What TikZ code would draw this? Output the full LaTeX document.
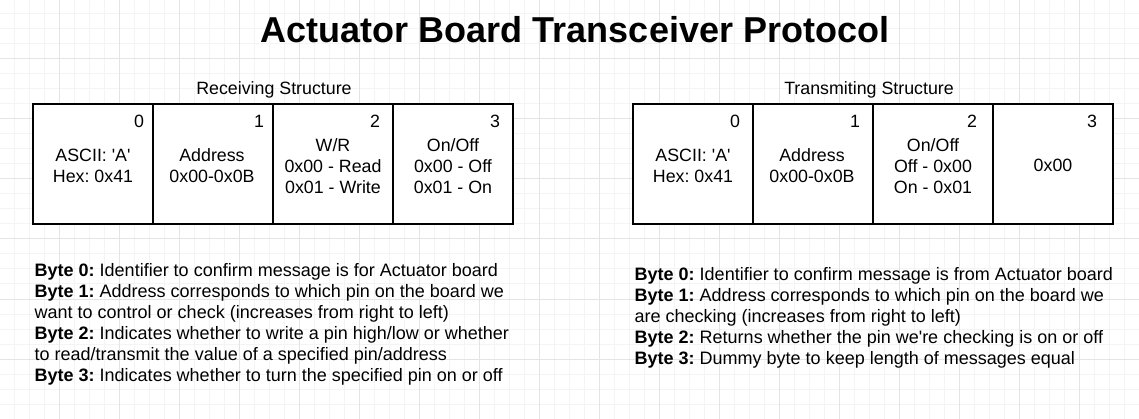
\documentclass[tikz,border=0pt]{standalone}
\usepackage{fontspec}
\setmainfont{Liberation Sans}
\definecolor{gridminor}{RGB}{244,244,244}
\definecolor{gridmajor}{RGB}{228,228,228}
\begin{document}
\frenchspacing
\begin{tikzpicture}[x=1pt,y=-1pt,
  minorline/.style={draw=gridminor,line width=1pt},
  majorline/.style={draw=gridmajor,line width=1pt},
  cell/.style={draw=black,line width=1.3pt,fill=white,minimum width=120pt,minimum height=120pt,inner sep=0pt,outer sep=0pt},
  celltext/.style={font=\fontsize{17.8}{21}\selectfont,align=center,inner sep=0pt},
  bytenum/.style={font=\fontsize{17.8}{21}\selectfont,inner sep=0pt},
  caption/.style={font=\fontsize{17.8}{21}\selectfont,inner sep=0pt,anchor=base},
  para/.style={font=\fontsize{18}{21}\selectfont,align=left,inner sep=0pt,anchor=north west},
  titletext/.style={font=\fontsize{36}{43}\selectfont\bfseries,inner sep=0pt,anchor=base}]
\useasboundingbox (0,0) rectangle (1139,419);
\fill[white] (0,0) rectangle (1139,419);
% grid
\foreach \x in {14,29,...,1139} \draw[minorline] (\x,0) -- (\x,419);
\foreach \y in {14,29,...,419} \draw[minorline] (0,\y) -- (1139,\y);
\foreach \x in {59,119,...,1139} \draw[majorline] (\x,0) -- (\x,419);
\foreach \y in {59,119,...,419} \draw[majorline] (0,\y) -- (1139,\y);

% title
\node[titletext] (title) at (575,42.3) {Actuator Board Transceiver Protocol};

% captions
\node[caption] (rcap) at (274,95) {Receiving Structure};
\node[caption] (tcap) at (869,95) {Transmiting Structure};

% receiving cells
\node[cell] (r0) at (93,164) {};
\node[cell] (r1) at (213,164) {};
\node[cell] (r2) at (333,164) {};
\node[cell] (r3) at (453,164) {};
% transmitting cells
\node[cell] (t0) at (693,164) {};
\node[cell] (t1) at (813,164) {};
\node[cell] (t2) at (933,164) {};
\node[cell] (t3) at (1053,164) {};

% byte numbers
\node[bytenum] (r0n) at (139,121) {0};
\node[bytenum] (r1n) at (259,121) {1};
\node[bytenum] (r2n) at (375,121) {2};
\node[bytenum] (r3n) at (495,121) {3};
\node[bytenum] (t0n) at (735,121) {0};
\node[bytenum] (t1n) at (855,121) {1};
\node[bytenum] (t2n) at (972,121) {2};
\node[bytenum] (t3n) at (1092,121) {3};

% cell contents
\node[celltext] (r0t) at (93,166) {ASCII: \textquotesingle A\textquotesingle\\Hex: 0x41};
\node[celltext] (r1t) at (212,165.5) {Address\\0x00-0x0B};
\node[celltext] (r2t) at (333,166) {W/R\\0x00 - Read\\0x01 - Write};
\node[celltext] (r3t) at (453,166) {On/Off\\0x00 - Off\\0x01 - On};
\node[celltext] (t0t) at (693,166) {ASCII: \textquotesingle A\textquotesingle\\Hex: 0x41};
\node[celltext] (t1t) at (812,165.5) {Address\\0x00-0x0B};
\node[celltext] (t2t) at (933,166) {On/Off\\Off - 0x00\\On - 0x01};
\node[celltext] (t3t) at (1053,165) {0x00};

% descriptions
\node[para] (rdesc) at (34.5,263.3) {\textbf{Byte 0:} Identifier to confirm message is for Actuator board\\
\textbf{Byte 1:} Address corresponds to which pin on the board we\\
want to control or check (increases from right to left)\\
\textbf{Byte 2:} Indicates whether to write a pin high/low or whether\\
to read/transmit the value of a specified pin/address\\
\textbf{Byte 3:} Indicates whether to turn the specified pin on or off};
\node[para] (tdesc) at (634.5,267.3) {\textbf{Byte 0:} Identifier to confirm message is from Actuator board\\
\textbf{Byte 1:} Address corresponds to which pin on the board we\\
are checking (increases from right to left)\\
\textbf{Byte 2:} Returns whether the pin we\textquotesingle re checking is on or off\\
\textbf{Byte 3:} Dummy byte to keep length of messages equal};
\end{tikzpicture}
\end{document}
